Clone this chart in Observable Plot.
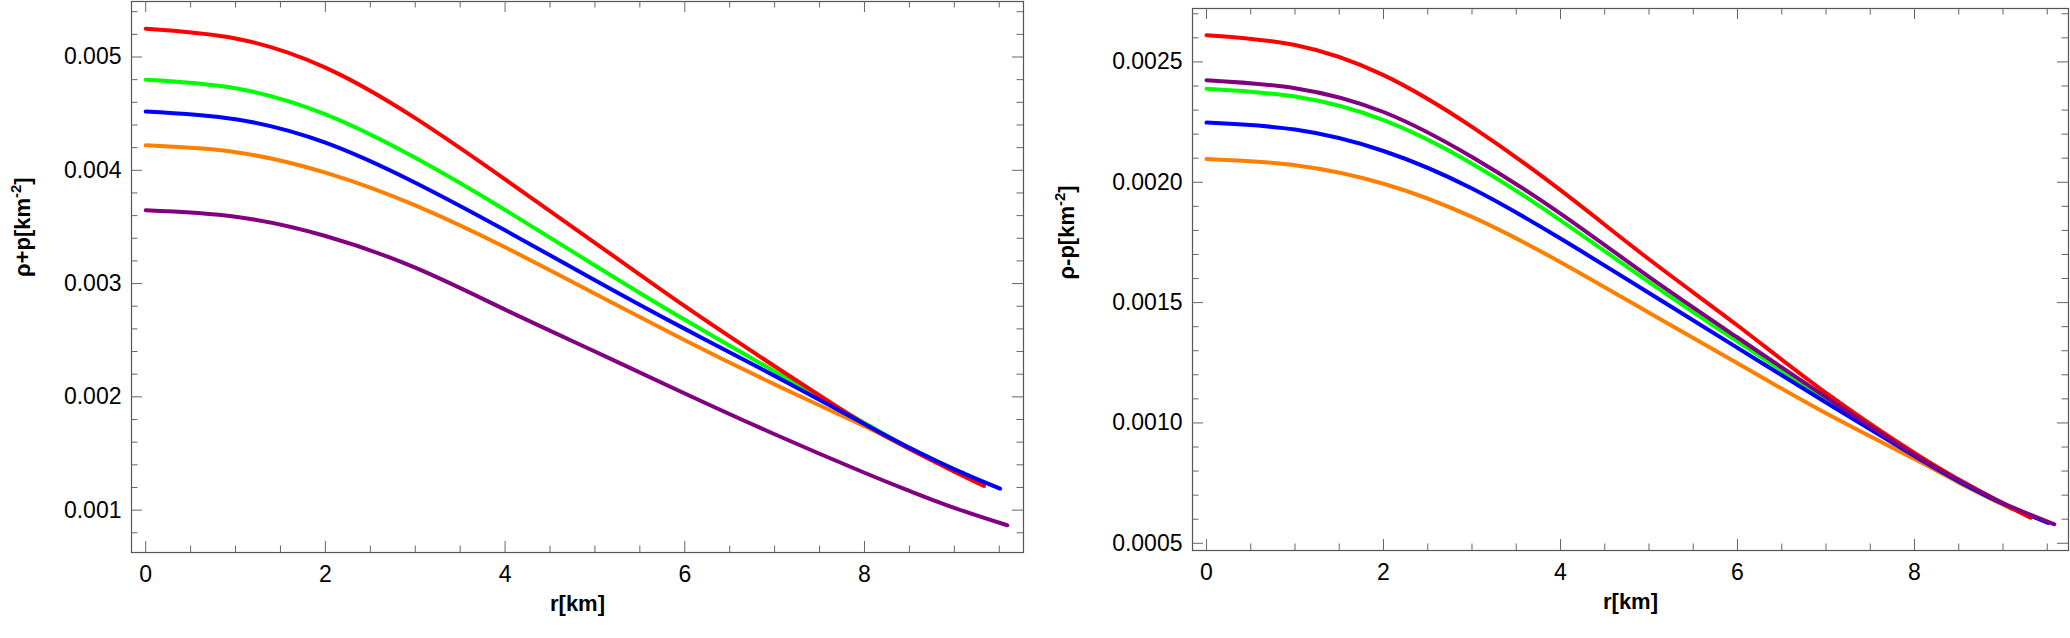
<!DOCTYPE html>
<html><head><meta charset="utf-8">
<script src="https://cdn.jsdelivr.net/npm/d3@7"></script>
<script src="https://cdn.jsdelivr.net/npm/@observablehq/plot@0.6"></script>
<style>
body{margin:0;background:#fff;}
#wrap{display:flex;width:2070px;height:638px;background:#fff;}
#wrap svg{display:block;max-width:none;}
</style></head><body><div id="wrap"></div>
<script>
// ---------- data: left panel  (rho + p) ----------
const plusRedR    = [0,1,2,3,4,5,6,7,8,8.5,9,9.33];
const plusRed     = [0.00525,0.005164,0.004906,0.00446,0.00392,0.00336,0.0028,0.00227,0.00176,0.00154,0.00134,0.001214];
const plusGreenR  = [0,1,2,3,4,5,6,7,8,8.5,9,9.2];
const plusGreen   = [0.0048,0.004724,0.004494,0.00411,0.00365,0.00316,0.00268,0.002225,0.00177,0.00155,0.00136,0.00129];
const plusBlueR   = [0,1,2,3,4,5,6,7,8,8.5,9,9.51];
const plusBlue    = [0.00452,0.004451,0.004244,0.00389,0.00347,0.00303,0.0026,0.002185,0.00176,0.00155,0.00136,0.00119];
const plusOrangeR = [0,1,2,3,4,5,6,7,8,8.5,9,9.1];
const plusOrange  = [0.00422,0.00416,0.003979,0.00369,0.00332,0.00291,0.0025,0.00211,0.00174,0.00155,0.00136,0.00133];
const plusPurpleR = [0,1,2,3,4,5,6,7,8,8.5,9,9.59];
const plusPurple  = [0.003647,0.00359,0.00342,0.00314,0.00277,0.0024,0.00203,0.00167,0.00133,0.00117,0.00102,0.000866];

// ---------- data: right panel (rho - p) ----------
const minusRedR    = [0,1,2,3,4,5,6,7,8,8.5,9,9.31];
const minusRed     = [0.002611,0.00257,0.002445,0.00223,0.001967,0.00168,0.001405,0.001125,0.000875,0.000765,0.000665,0.000606];
const minusGreenR  = [0,1,2,3,4,5,6,7,8,8.5,9,9.2];
const minusGreen   = [0.002389,0.002356,0.002258,0.002077,0.001842,0.001585,0.001338,0.001098,0.000865,0.000758,0.000663,0.00063];
const minusBlueR   = [0,1,2,3,4,5,6,7,8,8.5,9,9.51];
const minusBlue    = [0.002248,0.002219,0.00213,0.001974,0.001766,0.00154,0.001312,0.001085,0.000862,0.000757,0.000664,0.000585];
const minusOrangeR = [0,1,2,3,4,5,6,7,8,8.5,9,9.1];
const minusOrange  = [0.002097,0.002071,0.001994,0.001856,0.001668,0.001458,0.001248,0.00104,0.00085,0.000752,0.00066,0.000642];
const minusPurpleR = [0,1,2,3,4,5,6,7,8,8.5,9,9.58];
const minusPurple  = [0.002424,0.002391,0.002292,0.002105,0.00187,0.001607,0.001355,0.001107,0.000867,0.000762,0.000667,0.000579];

const seriesColors = {red:"#ff0000", green:"#00ff00", blue:"#0000ff", orange:"#ff8000", purple:"#800080"};

// ticks
const xMajor = [0,2,4,6,8];
const xMinor = [0.5,1,1.5,2.5,3,3.5,4.5,5,5.5,6.5,7,7.5,8.5,9,9.5];
const plusYMajor  = [0.001,0.002,0.003,0.004,0.005];
const plusYMinor  = [0.0008,0.0012,0.0014,0.0016,0.0018,0.0022,0.0024,0.0026,0.0028,0.0032,0.0034,0.0036,0.0038,0.0042,0.0044,0.0046,0.0048,0.0052,0.0054];
const minusYMajor = [0.0005,0.0010,0.0015,0.0020,0.0025];
const minusYMinor = [0.0006,0.0007,0.0008,0.0009,0.0011,0.0012,0.0013,0.0014,0.0016,0.0017,0.0018,0.0019,0.0021,0.0022,0.0023,0.0024,0.0026,0.0027];

function toRows(name, rs, vs){ return rs.map((r,i)=>({r, v: vs[i], s: name})); }

function panel(o){
  const innerW = o.width - o.ml - o.mr;
  const innerH = o.height - o.mt - o.mb;
  const tickColor = "#666";
  const marks = [
    Plot.frame({stroke:"#555", strokeWidth:1.2}),
    Plot.tickX(xMajor, {x:d=>d, stroke:tickColor, insetTop: innerH-11}),
    Plot.tickX(xMinor, {x:d=>d, stroke:tickColor, insetTop: innerH-6.5}),
    Plot.tickX(xMajor, {x:d=>d, stroke:tickColor, insetBottom: innerH-11}),
    Plot.tickX(xMinor, {x:d=>d, stroke:tickColor, insetBottom: innerH-6.5}),
    Plot.tickY(o.yMajor, {y:d=>d, stroke:tickColor, insetRight: innerW-11}),
    Plot.tickY(o.yMinor, {y:d=>d, stroke:tickColor, insetRight: innerW-6.5}),
    Plot.tickY(o.yMajor, {y:d=>d, stroke:tickColor, insetLeft: innerW-11}),
    Plot.tickY(o.yMinor, {y:d=>d, stroke:tickColor, insetLeft: innerW-6.5}),
    Plot.axisX({ticks: xMajor, tickSize:0, tickPadding:13, tickFormat:d=>String(d), fontSize:23, fill:"#000", label:null}),
    Plot.axisY({ticks: o.yMajor, tickSize:0, tickPadding:10, tickFormat:o.fmt, fontSize:23, fill:"#000", label:null}),
    ...o.series.map(s => Plot.line(s.rows, {x:"r", y:"v", stroke: seriesColors[s.name], strokeWidth:4, curve:"natural"})),
    Plot.text([o.xlabel], {text:d=>d, frameAnchor:"bottom", dy:58, fontWeight:"bold", fontSize:22, fill:"#000"}),
    Plot.text([o.ylabel], {text:d=>d, frameAnchor:"left", dx:o.ylabelDx, rotate:-90, fontWeight:"bold", fontSize:22, fill:"#000"})
  ];
  const svg = Plot.plot({
    width:o.width, height:o.height,
    marginLeft:o.ml, marginRight:o.mr, marginTop:o.mt, marginBottom:o.mb,
    x:{domain:o.xDomain},
    y:{domain:o.yDomain},
    style:{fontFamily:"'Liberation Sans', Arial, sans-serif", background:"#fff", overflow:"visible"},
    marks
  });
  svg.querySelectorAll("text").forEach(t=>{
    if (t.textContent.includes("^-2")) {
      const [a,b] = t.textContent.split("^-2");
      t.textContent = "";
      const ns = "http://www.w3.org/2000/svg";
      const t1 = document.createElementNS(ns,"tspan"); t1.textContent = a; t.appendChild(t1);
      const t2 = document.createElementNS(ns,"tspan"); t2.textContent = "-2"; t2.setAttribute("dy","-9"); t2.setAttribute("font-size","15"); t.appendChild(t2);
      const t3 = document.createElementNS(ns,"tspan"); t3.textContent = b; t3.setAttribute("dy","9"); t.appendChild(t3);
    }
  });
  return svg;
}

const left = panel({
  width:1040, height:638, ml:131, mr:17, mt:1, mb:86,
  xDomain:[-0.158, 9.77], yDomain:[0.000626, 0.00549],
  yMajor:plusYMajor, yMinor:plusYMinor, fmt:d3.format(".3f"),
  xlabel:"r[km]", ylabel:"ρ+p[km^-2]", ylabelDx:-109,
  series:[
    {name:"orange", rows:toRows("orange", plusOrangeR, plusOrange)},
    {name:"green",  rows:toRows("green",  plusGreenR,  plusGreen)},
    {name:"red",    rows:toRows("red",    plusRedR,    plusRed)},
    {name:"blue",   rows:toRows("blue",   plusBlueR,   plusBlue)},
    {name:"purple", rows:toRows("purple", plusPurpleR, plusPurple)}
  ]
});
const right = panel({
  width:1030, height:638, ml:152, mr:2, mt:8, mb:88,
  xDomain:[-0.158, 9.74], yDomain:[0.00047, 0.002722],
  yMajor:minusYMajor, yMinor:minusYMinor, fmt:d3.format(".4f"),
  xlabel:"r[km]", ylabel:"ρ-p[km^-2]", ylabelDx:-126,
  series:[
    {name:"orange", rows:toRows("orange", minusOrangeR, minusOrange)},
    {name:"green",  rows:toRows("green",  minusGreenR,  minusGreen)},
    {name:"blue",   rows:toRows("blue",   minusBlueR,   minusBlue)},
    {name:"red",    rows:toRows("red",    minusRedR,    minusRed)},
    {name:"purple", rows:toRows("purple", minusPurpleR, minusPurple)}
  ]
});
document.getElementById("wrap").append(left, right);
</script>
</body></html>
